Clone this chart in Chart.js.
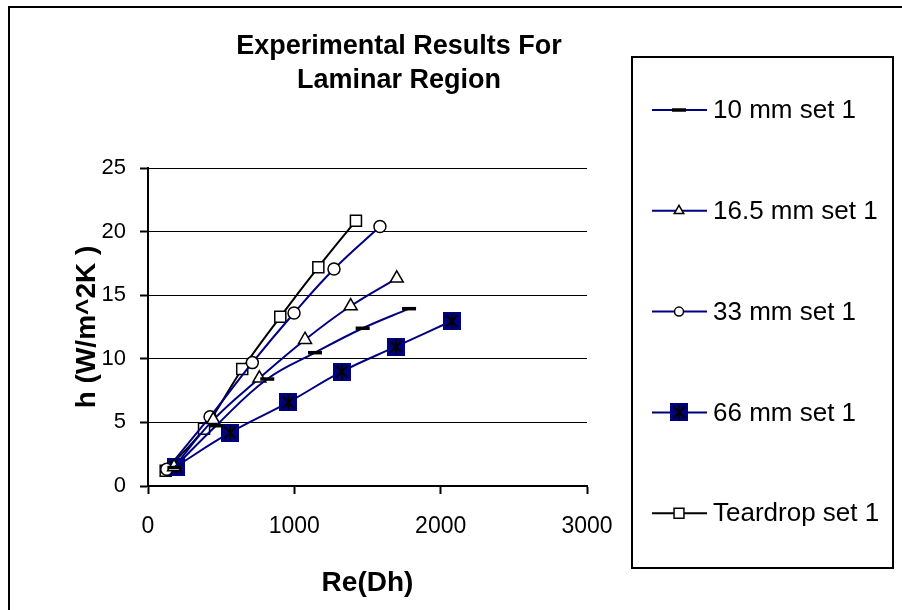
<!DOCTYPE html>
<html>
<head>
<meta charset="utf-8">
<script src="https://cdn.jsdelivr.net/npm/chart.js@4.4.0/dist/chart.umd.min.js"></script>
<style>
  html, body { margin: 0; padding: 0; background: #fff; }
  canvas { display: block; }
</style>
</head>
<body>
<canvas id="chart" width="902" height="610"></canvas>
<script>
// ---------------------------------------------------------
// Data (Re(Dh) vs h)
// ---------------------------------------------------------
const seriesNames = ["10 mm set 1", "16.5 mm set 1", "33 mm set 1", "66 mm set 1", "Teardrop set 1"];

const re10  = [180, 465, 815, 1141, 1467, 1784];
const h10   = [1.45, 4.74, 8.41, 10.48, 12.40, 13.94];

const re16  = [178, 446, 761, 1073, 1385, 1700];
const h16   = [1.5, 5.2, 8.47, 11.5, 14.15, 16.33];

const re33  = [128, 424, 713, 998, 1271, 1585];
const h33   = [1.31, 5.45, 9.7, 13.6, 17.06, 20.4];

const re66  = [189, 560, 959, 1324, 1693, 2075];
const h66   = [1.52, 4.19, 6.58, 8.99, 10.95, 12.97];

const reTd  = [121, 383, 644, 904, 1164, 1421];
const hTd   = [1.2, 4.5, 9.2, 13.3, 17.2, 20.86];

const xTickValues = [0, 1000, 2000, 3000];
const yTickValues = [0, 5, 10, 15, 20, 25];

const titleLines = ["Experimental Results For", "Laminar Region"];
const xTitle = "Re(Dh)";
const yTitle = "h (W/m^2K )";

const NAVY = "#000080";
const FONT = '"Liberation Sans", Arial, sans-serif';

// ---------------------------------------------------------
// Marker for the 66 mm series: navy square with black asterisk
// ---------------------------------------------------------
function asteriskSquare(size) {
    const c = document.createElement("canvas");
    c.width = size; c.height = size;
    const g = c.getContext("2d");
    g.fillStyle = NAVY;
    g.fillRect(0, 0, size, size);
    g.strokeStyle = "#000";
    g.lineWidth = 2;
    const m = size / 2, r = size * 0.42;
    g.beginPath();
    g.moveTo(m, m - r); g.lineTo(m, m + r);
    g.moveTo(m - r * 0.75, m - r * 0.75); g.lineTo(m + r * 0.75, m + r * 0.75);
    g.moveTo(m + r * 0.75, m - r * 0.75); g.lineTo(m - r * 0.75, m + r * 0.75);
    g.stroke();
    return c;
}
const star66 = asteriskSquare(18);

function toPoints(xs, ys) {
    return xs.map((x, i) => ({ x: x, y: ys[i] }));
}

const datasets = [
    { label: seriesNames[0], data: toPoints(re10, h10), borderColor: NAVY,
      pointStyle: "line", pointRadius: 7, pointBorderWidth: 3.5, pointBorderColor: "#000",
      pointBackgroundColor: "#000", legendR: 7 },
    { label: seriesNames[1], data: toPoints(re16, h16), borderColor: NAVY,
      pointStyle: "triangle", pointRadius: 7.5, pointBorderWidth: 1.5, pointBorderColor: "#000",
      pointBackgroundColor: "#fff", legendR: 5.5 },
    { label: seriesNames[2], data: toPoints(re33, h33), borderColor: NAVY,
      pointStyle: "circle", pointRadius: 6, pointBorderWidth: 1.5, pointBorderColor: "#000",
      pointBackgroundColor: "#fff", legendR: 4.5 },
    { label: seriesNames[3], data: toPoints(re66, h66), borderColor: NAVY,
      pointStyle: star66, pointRadius: 9, pointBorderWidth: 0,
      pointBackgroundColor: NAVY, legendR: 9 },
    { label: seriesNames[4], data: toPoints(reTd, hTd), borderColor: "#000",
      pointStyle: "rect", pointRadius: 7.8, pointBorderWidth: 1.5, pointBorderColor: "#000",
      pointBackgroundColor: "#fff", legendR: 7 }
].map(d => Object.assign({
    showLine: true,
    borderWidth: 2,
    tension: 0.4,
    fill: false,
    pointHoverRadius: d.pointRadius
}, d));

// ---------------------------------------------------------
// Legend marker drawing (same shapes as the data points)
// ---------------------------------------------------------
function drawMarker(ctx, ds, x, y) {
    const r = ds.legendR;
    const st = ds.pointStyle;
    ctx.save();
    if (st instanceof HTMLCanvasElement) {
        ctx.drawImage(st, x - st.width / 2, y - st.height / 2);
        ctx.restore();
        return;
    }
    ctx.strokeStyle = "#000";
    ctx.fillStyle = ds.pointBackgroundColor;
    ctx.lineWidth = st === "line" ? 3.5 : 1.5;
    ctx.beginPath();
    if (st === "line") {
        ctx.moveTo(x - r, y); ctx.lineTo(x + r, y);
        ctx.stroke();
    } else if (st === "triangle") {
        for (let k = 0; k < 3; k++) {
            const a = -Math.PI / 2 + k * 2 * Math.PI / 3;
            const px = x + Math.cos(a) * r, py = y + Math.sin(a) * r;
            if (k === 0) ctx.moveTo(px, py); else ctx.lineTo(px, py);
        }
        ctx.closePath(); ctx.fill(); ctx.stroke();
    } else if (st === "circle") {
        ctx.arc(x, y, r, 0, Math.PI * 2);
        ctx.fill(); ctx.stroke();
    } else if (st === "rect") {
        const s = r * Math.SQRT1_2;
        ctx.rect(x - s, y - s, 2 * s, 2 * s);
        ctx.fill(); ctx.stroke();
    }
    ctx.restore();
}

const framePlugin = {
    id: "frame",
    beforeDraw(chart) {
        const ctx = chart.ctx;
        ctx.save();
        ctx.fillStyle = "#fff";
        ctx.fillRect(0, 0, chart.width, chart.height);
        ctx.restore();
    },
    afterDraw(chart) {
        const ctx = chart.ctx;
        ctx.save();

        // outer chart border (right/bottom fall outside the picture)
        ctx.strokeStyle = "#000";
        ctx.lineWidth = 2;
        ctx.strokeRect(9, 7, 1000, 1000);

        // title
        ctx.fillStyle = "#000";
        ctx.font = "bold 27px " + FONT;
        ctx.textAlign = "center";
        ctx.textBaseline = "middle";
        titleLines.forEach((t, i) => ctx.fillText(t, 399, 47 + i * 34));

        // legend box
        ctx.lineWidth = 2;
        ctx.strokeRect(632, 57, 261, 511);
        ctx.font = "26px " + FONT;
        ctx.textAlign = "left";
        chart.data.datasets.forEach((ds, i) => {
            const y = 110 + i * 100.8;
            ctx.strokeStyle = ds.borderColor;
            ctx.lineWidth = 2;
            ctx.beginPath();
            ctx.moveTo(652, y); ctx.lineTo(707, y);
            ctx.stroke();
            drawMarker(ctx, ds, 679, y);
            ctx.fillStyle = "#000";
            ctx.fillText(ds.label, 713, y + 1);
        });
        ctx.restore();
    }
};

new Chart(document.getElementById("chart"), {
    type: "scatter",
    data: { datasets: datasets },
    options: {
        responsive: false,
        animation: false,
        events: [],
        layout: { padding: { left: 10, right: 315, top: 168, bottom: 10 } },
        plugins: {
            legend: { display: false },
            title: { display: false },
            tooltip: { enabled: false }
        },
        scales: {
            x: {
                type: "linear",
                min: xTickValues[0],
                max: xTickValues[xTickValues.length - 1],
                afterBuildTicks: s => { s.ticks = xTickValues.map(v => ({ value: v })); },
                afterFit: s => { s.height = 114; s.paddingLeft = 0; s.paddingRight = 0; },
                ticks: { color: "#000", font: { family: FONT, size: 23 }, padding: 19, maxRotation: 0,
                         callback: v => String(v) },
                grid: { drawOnChartArea: false, tickLength: 8, color: "#000", tickWidth: 2 },
                border: { color: "#000", width: 2 },
                title: { display: true, text: xTitle, color: "#000",
                         font: { family: FONT, size: 28, weight: "bold" }, padding: { top: 10, bottom: 0 } }
            },
            y: {
                type: "linear",
                min: yTickValues[0],
                max: yTickValues[yTickValues.length - 1],
                afterBuildTicks: s => { s.ticks = yTickValues.map(v => ({ value: v })); },
                afterFit: s => { s.width = 138; s.paddingTop = 0; s.paddingBottom = 0; },
                ticks: { color: "#000", font: { family: FONT, size: 22 }, padding: 14,
                         callback: v => String(v) },
                grid: { color: "#000", lineWidth: 1, tickLength: 8, tickWidth: 2 },
                border: { color: "#000", width: 2 },
                title: { display: true, text: yTitle, color: "#000",
                         font: { family: FONT, size: 28, weight: "bold" }, padding: { top: 60, bottom: 0 } }
            }
        }
    },
    plugins: [framePlugin]
});
</script>
</body>
</html>
